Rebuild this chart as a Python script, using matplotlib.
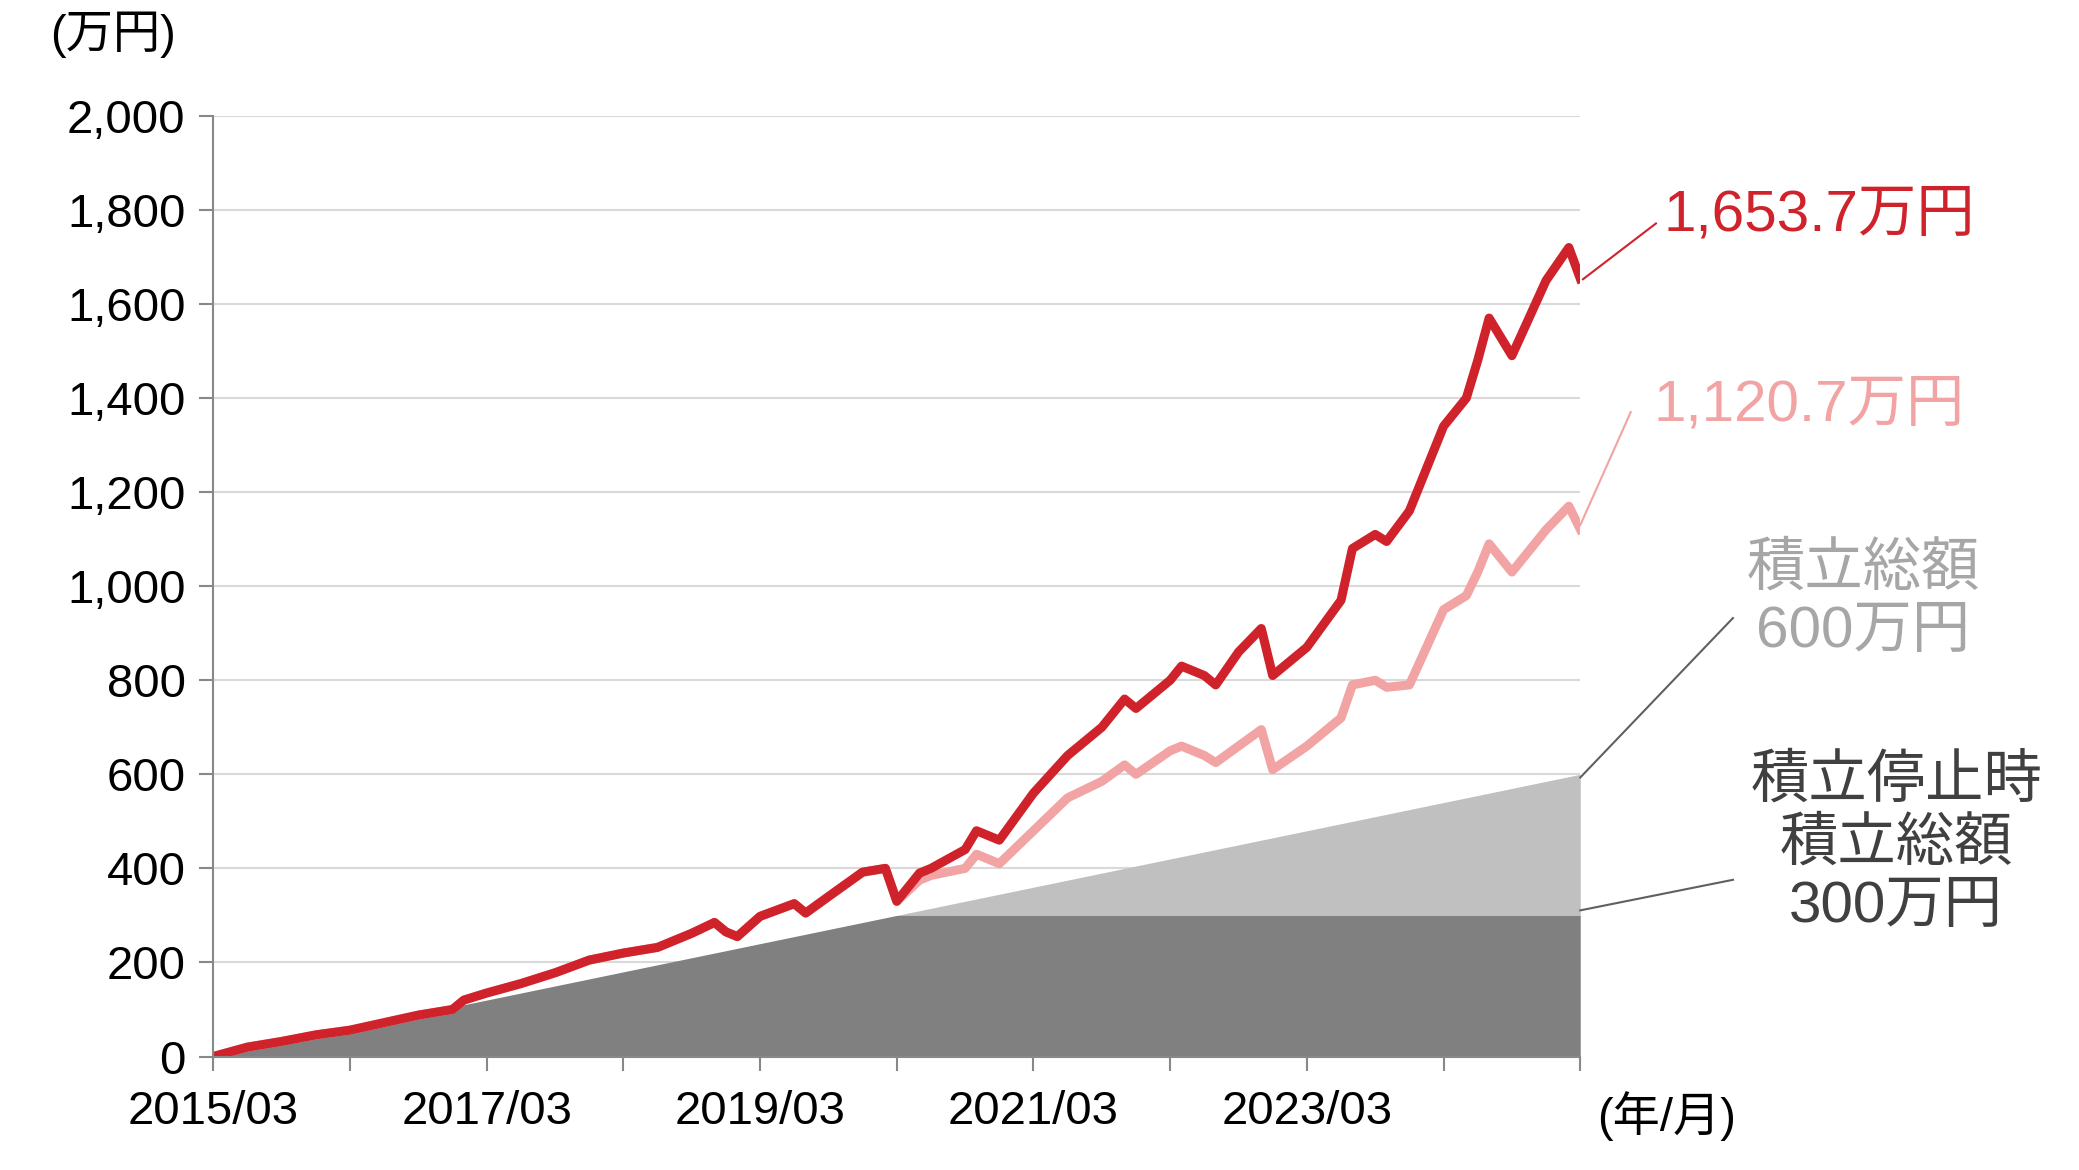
import matplotlib
matplotlib.use("Agg")
import matplotlib.pyplot as plt
import numpy as np

plt.rcParams['font.family'] = ['Liberation Sans', 'Noto Sans CJK JP']

# months since 2015/03
red_m = [0,3,6,9,12,15,18,21,22,24,27,30,33,36,39,42,44,45,46,48,51,52,54,57,59,60,62,63,66,67,69,72,75,78,80,81,84,85,87,88,90,92,93,96,99,100,102,103,105,108,110,111,112,114,117,119,120]
red_v = [0,20,32,46,56,72,88,100,120,135,155,178,205,220,232,262,285,265,255,298,325,305,340,392,400,330,390,400,440,480,460,560,640,700,760,740,800,830,810,790,860,910,810,870,970,1080,1110,1095,1160,1340,1400,1480,1570,1490,1650,1720,1654]
pink_m = [0,3,6,9,12,15,18,21,22,24,27,30,33,36,39,42,44,45,46,48,51,52,54,57,59,60,62,63,66,67,69,72,75,78,80,81,84,85,87,88,90,92,93,96,99,100,102,103,105,108,110,111,112,114,117,119,120]
pink_v = [0,20,32,46,56,72,88,100,120,135,155,178,205,220,232,262,285,265,255,298,325,305,340,392,400,330,375,385,400,430,410,480,550,585,620,600,650,660,640,625,660,695,610,660,720,790,800,785,790,950,980,1030,1090,1030,1120,1170,1121]
monthly = 5  # 万円/month
stop_month = 60

months = np.arange(0, 121)
cum = months * monthly
cum_stop = np.minimum(cum, stop_month * monthly)

fig = plt.figure(figsize=(20.79, 11.70), dpi=100)
ax = fig.add_axes([0.1026, 0.097, 0.6575, 0.804])
ax.fill_between(months, cum_stop, cum, color='#c0c0c0', lw=0)
ax.fill_between(months, 0, cum_stop, color='#808080', lw=0)
ax.plot(pink_m, pink_v, color='#f2a3a3', lw=6.5, solid_joinstyle='round')
ax.plot(red_m, red_v, color='#d0222a', lw=6.5, solid_joinstyle='round')

ax.set_xlim(0, 120)
ax.set_ylim(0, 2000)
ax.set_yticks(range(0, 2001, 200))
ax.set_yticklabels([f"{v:,}" for v in range(0, 2001, 200)])
ax.set_xticks(range(0, 121, 12))
ax.set_xticklabels(['2015/03', '', '2017/03', '', '2019/03', '', '2021/03', '', '2023/03', '', ''])
ax.tick_params(axis='both', labelsize=34, length=10, width=1.5, color='#888888', pad=10)
ax.tick_params(axis='x', pad=14)
ax.grid(axis='y', color='#d9d9d9', lw=1.5)
ax.set_axisbelow(True)
for s in ['top', 'right']:
    ax.spines[s].set_visible(False)
for s in ['left', 'bottom']:
    ax.spines[s].set_color('#888888')
    ax.spines[s].set_linewidth(1.5)

def px(x, y):
    return ((x - 160) / 8.583, (795 - y) / 0.354)

fig.text(0.024, 0.99, '(万円)', fontsize=34, va='top', ha='left')
ax.text(*px(1255, 840), '(年/月)', fontsize=34, va='center', ha='center')

ax.plot(*zip(px(1192, 210), px(1247, 168)), color='#d0222a', lw=1.5, clip_on=False)
ax.text(*px(1253, 162), '1,653.7万円', fontsize=42, color='#d0222a', va='center', ha='left')
ax.plot(*zip(px(1190, 395), px(1228, 310)), color='#f2a3a3', lw=1.5, clip_on=False)
ax.text(*px(1245, 305), '1,120.7万円', fontsize=42, color='#f2a3a3', va='center', ha='left')
ax.plot(*zip(px(1190, 585), px(1305, 465)), color='#606060', lw=1.5, clip_on=False)
ax.text(*px(1403, 452), '積立総額\n600万円', fontsize=42, color='#a6a6a6', va='center', ha='center', linespacing=1.2)
ax.plot(*zip(px(1190, 685), px(1305, 662)), color='#606060', lw=1.5, clip_on=False)
ax.text(*px(1428, 635), '積立停止時\n積立総額\n300万円', fontsize=42, color='#404040', va='center', ha='center', linespacing=1.2)

fig.savefig('out.png', dpi=100)
